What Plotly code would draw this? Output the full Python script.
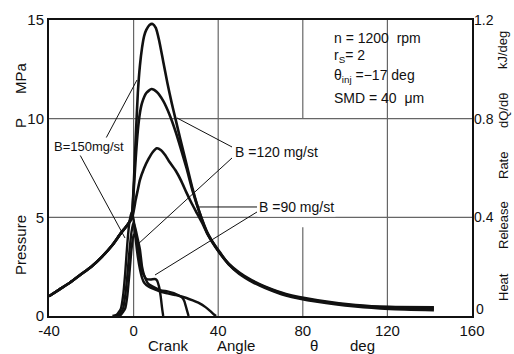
import plotly.graph_objects as go

# ---------------- data ----------------
theta_comp = [-40, -35, -30, -25, -20, -15, -10, -6, -3]
p_comp = [1.0, 1.35, 1.7, 2.1, 2.5, 3.0, 3.6, 4.2, 4.6]

theta_p150 = [-1, 0, 1, 2, 3, 4, 5, 6, 7.5, 9, 10.5, 12, 14, 16, 18, 20, 22, 25, 28, 31, 35, 40, 45, 50, 56, 62, 72, 87, 105, 121, 142]
p_150 = [5.0, 6.5, 9.0, 11.3, 12.7, 13.6, 14.2, 14.5, 14.75, 14.8, 14.6, 14.0, 12.9, 11.8, 10.8, 9.9, 9.0, 7.7, 6.4, 5.3, 4.15, 3.3, 2.65, 2.2, 1.8, 1.5, 1.12, 0.8, 0.56, 0.46, 0.44]

theta_p120 = [-1, 0, 1, 2, 3, 4, 6, 8.5, 11, 14, 17, 20, 22, 25, 28, 31, 35, 40, 45, 50, 56, 62, 72, 87, 105, 121, 142]
p_120 = [5.0, 6.3, 8.0, 9.4, 10.3, 10.8, 11.3, 11.5, 11.35, 10.9, 10.2, 9.3, 8.6, 7.5, 6.3, 5.3, 4.2, 3.3, 2.62, 2.17, 1.77, 1.47, 1.08, 0.76, 0.52, 0.42, 0.38]

theta_p90 = [-1, 0, 1, 2, 3, 5, 7, 9, 11, 13, 15, 17, 20, 22.5, 25, 27.5, 30, 32.5, 35, 38, 41, 45, 50, 56, 62, 72, 87, 105, 121, 142]
p_90 = [4.9, 5.3, 5.9, 6.4, 6.9, 7.5, 7.95, 8.3, 8.5, 8.4, 8.15, 7.8, 7.35, 6.85, 6.25, 5.7, 5.2, 4.7, 4.15, 3.65, 3.2, 2.62, 2.13, 1.73, 1.43, 1.04, 0.72, 0.48, 0.36, 0.3]

theta_hr150 = [-10, -8, -6, -5, -4, -3, -2, -1, 0, 1, 2, 3, 4, 5, 7, 10, 13, 16, 20, 25, 28, 31, 34, 36, 38, 39]
hr_150 = [0, 0.005, 0.03, 0.08, 0.17, 0.29, 0.38, 0.42, 0.39, 0.31, 0.24, 0.19, 0.155, 0.135, 0.12, 0.108, 0.098, 0.092, 0.085, 0.073, 0.063, 0.052, 0.036, 0.022, 0.006, 0]

theta_hr120 = [-9, -7, -5, -4, -3, -2, -1, 0, 1, 2, 3, 4, 5, 7, 10, 13, 16, 19, 21, 23, 24, 25, 26]
hr_120 = [0, 0.005, 0.03, 0.08, 0.16, 0.26, 0.34, 0.38, 0.35, 0.31, 0.27, 0.2, 0.165, 0.13, 0.115, 0.104, 0.1, 0.093, 0.085, 0.074, 0.06, 0.03, 0]

theta_hr90 = [-8, -6, -4, -3, -2, -1, 0, 1, 2, 3, 4, 6, 8, 10, 11, 12, 12.8, 13.5, 14]
hr_90 = [0, 0.005, 0.03, 0.08, 0.17, 0.27, 0.33, 0.32, 0.28, 0.23, 0.18, 0.15, 0.148, 0.15, 0.145, 0.12, 0.08, 0.03, 0]

x_ticks = [-40, 0, 40, 80, 120, 160]
y_ticks = [0, 5, 10, 15]
y2_ticks = [0.4, 0.8, 1.2]
y2_labels = ["0.4", "0.8", "1.2"]

FONT = "Liberation Sans"
BLACK = "#111"

fig = go.Figure()

def pcurve(th, p):
    return theta_comp + th, p_comp + p

for th, p in [(theta_p150, p_150), (theta_p120, p_120), (theta_p90, p_90)]:
    xx, yy = pcurve(th, p)
    fig.add_trace(go.Scatter(x=xx, y=yy, mode="lines",
                             line=dict(color=BLACK, width=2.6, shape="spline", smoothing=0.6),
                             showlegend=False, hoverinfo="skip"))

for th, h in [(theta_hr150, hr_150), (theta_hr120, hr_120), (theta_hr90, hr_90)]:
    fig.add_trace(go.Scatter(x=th, y=h, mode="lines", yaxis="y2",
                             line=dict(color=BLACK, width=2.4, shape="spline", smoothing=0.5),
                             showlegend=False, hoverinfo="skip"))

shapes = []
GRID = "#666"
for xv in [0, 40, 120]:
    shapes.append(dict(type="line", xref="x", yref="y", x0=xv, x1=xv, y0=0, y1=15,
                       line=dict(color=GRID, width=1.2), layer="below"))
shapes.append(dict(type="line", xref="x", yref="y", x0=80, x1=80, y0=10, y1=15,
                   line=dict(color=GRID, width=1.2), layer="below"))
shapes.append(dict(type="line", xref="x", yref="y", x0=80, x1=80, y0=0, y1=4.5,
                   line=dict(color=GRID, width=1.2), layer="below"))
for yv in [5, 10]:
    shapes.append(dict(type="line", xref="x", yref="y", x0=-40, x1=160, y0=yv, y1=yv,
                       line=dict(color=GRID, width=1.2), layer="below"))

def dx(px):
    return (px - 49) / 2.115 - 40

def dy(py):
    return (316 - py) / 19.73

leaders = [
    ((105, 140), (137, 80)),   # B=150 upper
    ((80, 155), (125, 238)),   # B=150 lower
    ((232, 147), (177, 118)),  # B=120 upper
    ((232, 158), (137, 245)),  # B=120 lower
    ((257, 207), (198, 207)),  # B=90 horizontal
    ((257, 212), (155, 275)),  # B=90 lower
]
for (a, b) in leaders:
    shapes.append(dict(type="line", xref="x", yref="y", x0=dx(a[0]), y0=dy(a[1]),
                       x1=dx(b[0]), y1=dy(b[1]), line=dict(color=BLACK, width=1)))

annotations = []
def txt(t, px, py, size=13, xanchor="center", angle=0, bg=None):
    d = dict(text=t, x=dx(px), y=dy(py), xref="x", yref="y", showarrow=False,
             xanchor=xanchor, yanchor="middle", textangle=angle,
             font=dict(family=FONT, size=size, color=BLACK))
    if bg:
        d["bgcolor"] = bg
    annotations.append(d)

txt("B=150mg/st", 89, 147, 13, bg="white")
txt("B =120 mg/st", 276, 152, 14, bg="white")
txt("B =90 mg/st", 296, 207, 14, bg="white")

txt("n = 1200  rpm", 332, 38, 14, xanchor="left")
txt("r<sub>S</sub>= 2", 332, 56, 14, xanchor="left")
txt("θ<sub>inj</sub> =−17 deg", 332, 76, 14, xanchor="left")
txt("SMD = 40  μm", 332, 98, 14, xanchor="left")

def ptxt(t, px, py, angle=0, size=15, xanchor="center"):
    annotations.append(dict(text=t, x=(px - 49) / 423, y=(316 - py) / 296, xref="paper", yref="paper",
                            showarrow=False, xanchor=xanchor, yanchor="middle", textangle=angle,
                            font=dict(family=FONT, size=size, color=BLACK)))

ptxt("Pressure", 20, 245, -90)
ptxt("P", 20, 123, -90)
ptxt("MPa", 20, 78, -90)
ptxt("Heat", 503, 287, -90, 13)
ptxt("Release", 503, 225, -90, 13)
ptxt("Rate", 503, 166, -90, 13)
ptxt("dQ/dθ", 503, 111, -90, 13)
ptxt("kJ/deg", 503, 50, -90, 13)
ptxt("Crank", 168, 345)
ptxt("Angle", 236, 345)
ptxt("θ", 314, 345)
ptxt("deg", 362, 345)
ptxt("0", 474, 309, 0, 14, "left")

fig.update_layout(
    width=514, height=354,
    margin=dict(l=49, r=42, t=20, b=38, autoexpand=False),
    paper_bgcolor="white", plot_bgcolor="white",
    font=dict(family=FONT, size=15, color=BLACK),
    xaxis=dict(range=[-40, 160], tickvals=x_ticks, ticktext=[str(v) for v in x_ticks],
               showgrid=False, zeroline=False, showline=True, mirror=True, automargin=False,
               linecolor=BLACK, linewidth=2, ticks="", ticklen=0,
               tickfont=dict(size=15, family=FONT)),
    yaxis=dict(range=[0, 15], tickvals=y_ticks, showgrid=False, zeroline=False, automargin=False,
               showline=True, mirror=True, linecolor=BLACK, linewidth=2, ticks="",
               tickfont=dict(size=15, family=FONT)),
    yaxis2=dict(range=[0, 1.2], tickvals=y2_ticks, ticktext=y2_labels, overlaying="y",
                side="right", showgrid=False, zeroline=False, showline=False, ticks="",
                ticklabelstandoff=1,
                automargin=False, tickfont=dict(size=14, family=FONT)),
    shapes=shapes, annotations=annotations,
)

fig.write_html("out.html", config={"displayModeBar": False},
               post_script="document.body.style.margin='0';document.body.style.overflow='hidden';")
